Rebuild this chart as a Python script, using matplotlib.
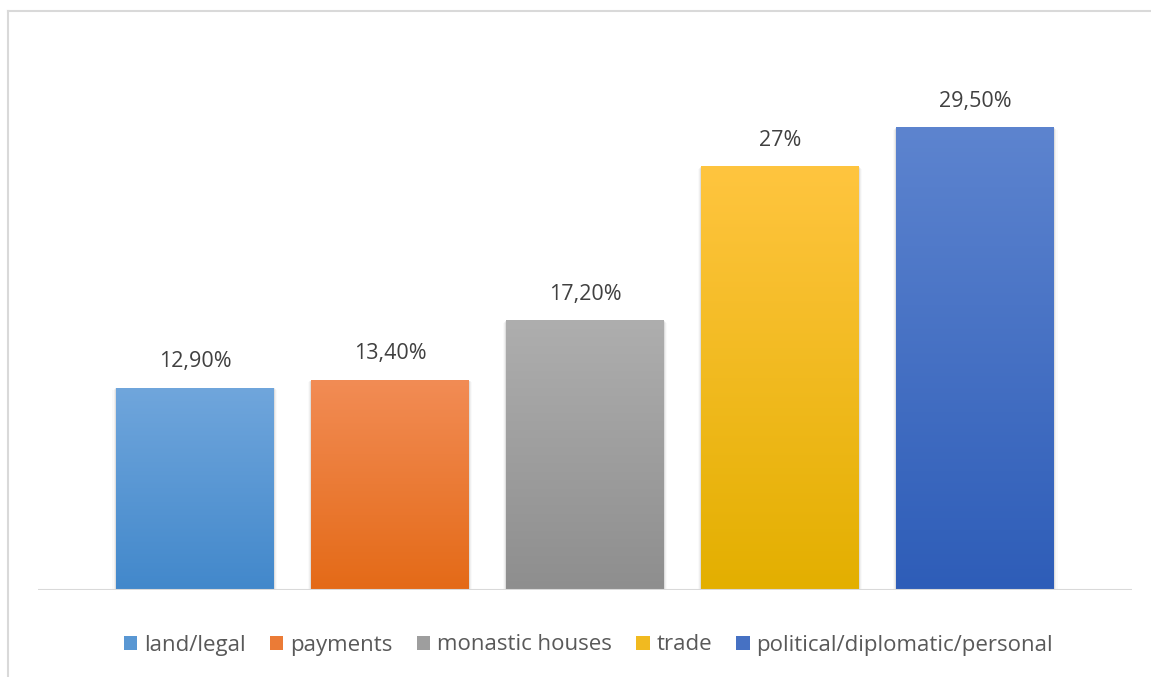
import numpy as np
import matplotlib.pyplot as plt
from matplotlib.colors import LinearSegmentedColormap, to_rgb
from matplotlib.patches import Patch
from matplotlib.lines import Line2D

# dados do gráfico
categories = ['land/legal', 'payments', 'monastic houses', 'trade', 'political/diplomatic/personal']
values = [12.9, 13.4, 17.2, 27.0, 29.5]
labels = ['12,90%', '13,40%', '17,20%', '27%', '29,50%']
top_colors = ['#70A6DC', '#F28C55', '#AEAEAE', '#FFC53F', '#5D84CF']
bottom_colors = ['#4288CB', '#E46A17', '#8E8E8E', '#E3AF00', '#2E5DB8']

plt.rcParams['font.family'] = ['Open Sans', 'DejaVu Sans']

fig = plt.figure(figsize=(11.51, 6.77), dpi=100)
W, H = 1151, 677
ax = fig.add_axes([38 / W, (H - 590) / H, (1132 - 38) / W, (590 - 41) / H])

x = np.arange(len(categories))
bars = ax.bar(x, values, width=0.81, color='none', zorder=3)

# gradiente vertical em cada barra + sombra leve
grad = np.linspace(1, 0, 256).reshape(-1, 1)
for b, c1, c2 in zip(bars, top_colors, bottom_colors):
    x0, w, h = b.get_x(), b.get_width(), b.get_height()
    for k, a in enumerate([0.07, 0.04, 0.02]):
        ax.bar(x0 + w / 2, h + 0.05 * (k + 1), width=w + 0.012 * (k + 1),
               bottom=-0.1 * (k + 1), color='black', alpha=a, zorder=1, linewidth=0)
    cmap = LinearSegmentedColormap.from_list('g', [c2, c1])
    im = ax.imshow(grad, cmap=cmap, aspect='auto', extent=[x0, x0 + w, 0, h],
                   zorder=2, interpolation='bicubic')
    im.set_clip_path(b)

for xi, v, lab in zip(x, values, labels):
    ax.text(xi, v + 1.0, lab, ha='center', va='bottom', fontsize=15.5, color='#404040')

ax.set_xlim(-0.805, 4.805)
ax.set_ylim(0, 35)
ax.axhline(0, color='#D9D9D9', linewidth=1.5, zorder=4)
for s in ax.spines.values():
    s.set_visible(False)
ax.set_xticks([])
ax.set_yticks([])

# borda da área do gráfico
fig.add_artist(Line2D([8 / W, 1], [1 - 11 / H, 1 - 11 / H], color='#D9D9D9', linewidth=1.5))
fig.add_artist(Line2D([8 / W, 8 / W], [0, 1 - 11 / H], color='#D9D9D9', linewidth=1.5))

mid_colors = [tuple((np.array(to_rgb(a)) + np.array(to_rgb(b))) / 2) for a, b in zip(top_colors, bottom_colors)]
handles = [Patch(facecolor=c, edgecolor='none') for c in mid_colors]
fig.legend(handles, categories, loc='center', bbox_to_anchor=(588.5 / W, 1 - 645 / H),
           ncol=5, frameon=False, fontsize=16, labelcolor='#595959',
           handlelength=0.6, handleheight=0.6, handletextpad=0.3, columnspacing=1.1)

fig.savefig('out.png', dpi=100)
